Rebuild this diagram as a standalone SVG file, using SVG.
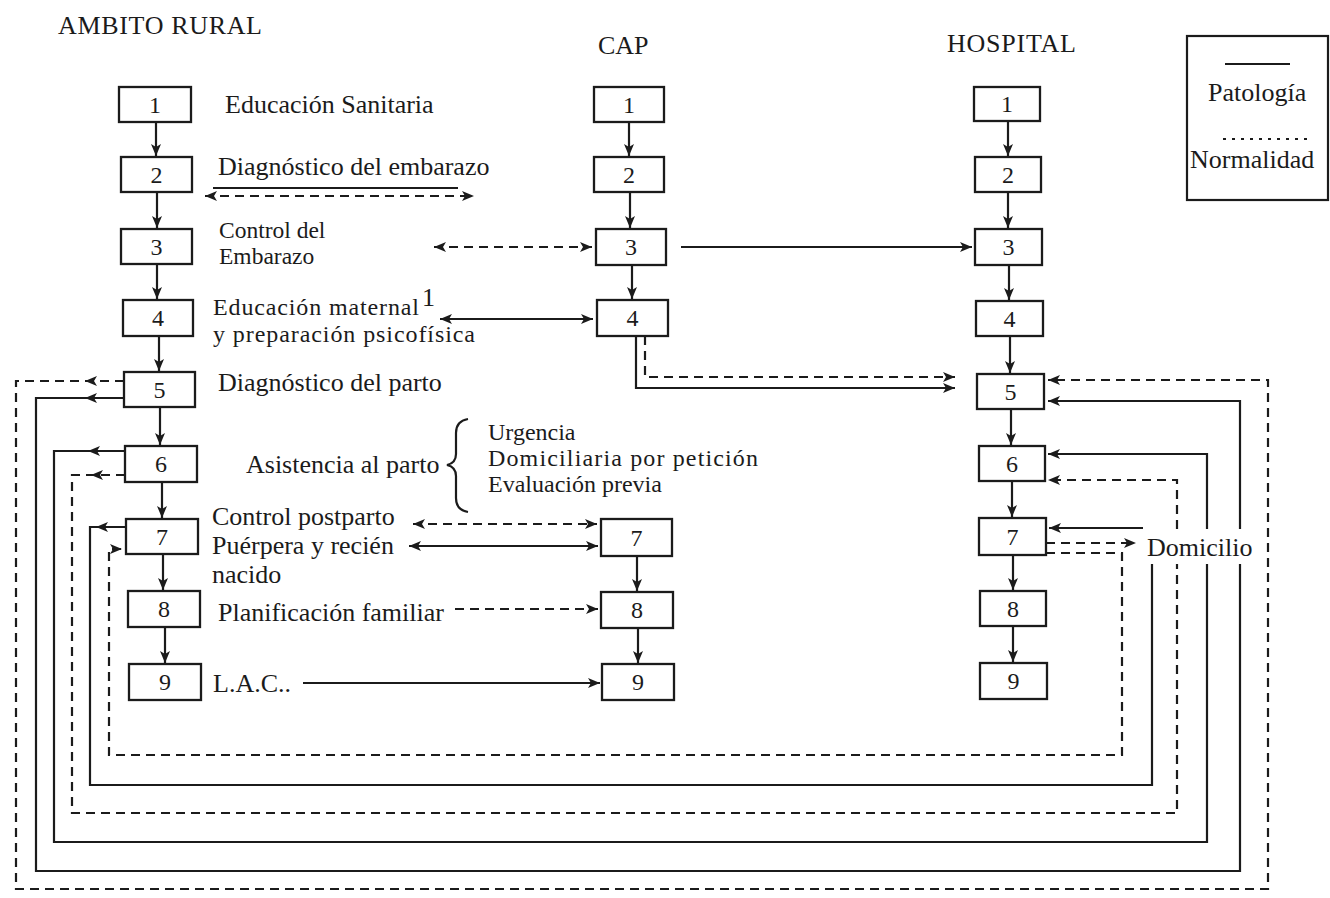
<svg xmlns="http://www.w3.org/2000/svg" xmlns:xlink="http://www.w3.org/1999/xlink" width="1330" height="898" viewBox="0 0 1330 898">
<style>
.box{fill:#fff;stroke:#1b1b1b;stroke-width:2.3}
.ln{fill:none;stroke:#1b1b1b;stroke-width:2.2}
.ds{stroke-dasharray:9 6}
text{font-family:"Liberation Serif","Times New Roman",serif;font-size:26px;fill:#1b1b1b}
.num{text-anchor:middle;font-size:24px}
.s25{font-size:23.5px}
.s24{font-size:24px}
.s23{font-size:24px}
</style>
<defs>
<marker id="a" viewBox="0 0 12 10" refX="12" refY="5" markerWidth="12" markerHeight="10" markerUnits="userSpaceOnUse" orient="auto-start-reverse"><path d="M0,0 L12,5 L0,10 L3,5 Z" fill="#1b1b1b"/></marker>
<path id="ah" d="M0,0 L-12,-5 L-9,0 L-12,5 Z" fill="#1b1b1b"/>
</defs>
<rect width="1330" height="898" fill="#fff"/>

<g id="headers">
<text x="58" y="34" textLength="204" lengthAdjust="spacing">AMBITO RURAL</text>
<text x="598" y="54">CAP</text>
<text x="947" y="52" textLength="129" lengthAdjust="spacing">HOSPITAL</text>
</g>

<g id="connectors">
<g class="ln" marker-end="url(#a)">
<path d="M156 122V156"/><path d="M157 192V228"/><path d="M157 264V299"/><path d="M159 336V371"/><path d="M160 407V445"/><path d="M162 482V518"/><path d="M163 554V590"/><path d="M165 627V663"/>
<path d="M629 122V156"/><path d="M630 192V228"/><path d="M632 265V299"/><path d="M637 556V591"/><path d="M638 628V663"/>
<path d="M1008 121V156"/><path d="M1008 192V228"/><path d="M1009 265V300"/><path d="M1010 336V373"/><path d="M1011 409V445"/><path d="M1012 481V517"/><path d="M1013 555V590"/><path d="M1013 626V662"/>
</g>
<path class="ln" d="M213 188H458"/>
<path class="ln ds" d="M205 196H474" marker-start="url(#a)" marker-end="url(#a)"/>
<path class="ln ds" d="M434 247H592" marker-start="url(#a)" marker-end="url(#a)"/>
<path class="ln" d="M681 247H972" marker-end="url(#a)"/>
<path class="ln" d="M440 319H593" marker-start="url(#a)" marker-end="url(#a)"/>
<path class="ln" d="M636 336V388H955" marker-end="url(#a)"/>
<path class="ln ds" d="M645 336V377H955" marker-end="url(#a)"/>
<path class="ln ds" d="M413 524H597" marker-start="url(#a)" marker-end="url(#a)"/>
<path class="ln" d="M409 546H598" marker-start="url(#a)" marker-end="url(#a)"/>
<path class="ln ds" d="M455 609H598" marker-end="url(#a)"/>
<path class="ln" d="M303 683H600" marker-end="url(#a)"/>
<path class="ln ds" d="M124 381H16V889H1268V380H1048" marker-end="url(#a)"/>
<path class="ln" d="M124 398H36V871H1240V564M1240 529V401H1048" marker-end="url(#a)"/>
<path class="ln" d="M125 451H54V842H1207V564M1207 529V454H1048" marker-end="url(#a)"/>
<path class="ln ds" d="M125 475H72V813H1177V564M1177 529V480H1048" marker-end="url(#a)"/>
<path class="ln" d="M126 527H90V785H1152V564"/>
<path class="ln ds" d="M1046 553H1122V755H109V549H122" marker-end="url(#a)"/>
<path class="ln" d="M1143 528H1049" marker-end="url(#a)"/>
<path class="ln ds" d="M1046 543H1136" marker-end="url(#a)"/>
<use xlink:href="#ah" transform="translate(85 381) rotate(180)"/>
<use xlink:href="#ah" transform="translate(85 398) rotate(180)"/>
<use xlink:href="#ah" transform="translate(88 451) rotate(180)"/>
<use xlink:href="#ah" transform="translate(91 475) rotate(180)"/>
<use xlink:href="#ah" transform="translate(96 527) rotate(180)"/>
<path class="ln" d="M468 419Q456 421 456 433V454Q456 463 447 465Q456 467 456 476V498Q456 510 468 512"/>
</g>

<g id="rural">
<g id="L1"><rect class="box" x="119" y="87" width="72" height="35"/><text class="num" x="155" y="113">1</text></g>
<g id="L2"><rect class="box" x="121" y="157" width="71" height="35"/><text class="num" x="156.5" y="183">2</text></g>
<g id="L3"><rect class="box" x="121" y="229" width="71" height="35"/><text class="num" x="156.5" y="255">3</text></g>
<g id="L4"><rect class="box" x="123" y="300" width="70" height="36"/><text class="num" x="158" y="326">4</text></g>
<g id="L5"><rect class="box" x="124" y="372" width="71" height="35"/><text class="num" x="159.5" y="398">5</text></g>
<g id="L6"><rect class="box" x="125" y="446" width="72" height="36"/><text class="num" x="161" y="472">6</text></g>
<g id="L7"><rect class="box" x="126" y="519" width="72" height="35"/><text class="num" x="162" y="545">7</text></g>
<g id="L8"><rect class="box" x="128" y="591" width="72" height="36"/><text class="num" x="164" y="617">8</text></g>
<g id="L9"><rect class="box" x="129" y="664" width="72" height="36"/><text class="num" x="165" y="690">9</text></g>
</g>

<g id="cap">
<g id="C1"><rect class="box" x="594" y="87" width="70" height="35"/><text class="num" x="629" y="113">1</text></g>
<g id="C2"><rect class="box" x="594" y="157" width="70" height="35"/><text class="num" x="629" y="183">2</text></g>
<g id="C3"><rect class="box" x="596" y="229" width="70" height="36"/><text class="num" x="631" y="255">3</text></g>
<g id="C4"><rect class="box" x="597" y="300" width="71" height="36"/><text class="num" x="632.5" y="326">4</text></g>
<g id="C7"><rect class="box" x="601" y="519" width="71" height="37"/><text class="num" x="636.5" y="546">7</text></g>
<g id="C8"><rect class="box" x="601" y="592" width="72" height="36"/><text class="num" x="637" y="618">8</text></g>
<g id="C9"><rect class="box" x="602" y="664" width="72" height="36"/><text class="num" x="638" y="690">9</text></g>
</g>

<g id="hospital">
<g id="H1"><rect class="box" x="974" y="87" width="66" height="34"/><text class="num" x="1007" y="112">1</text></g>
<g id="H2"><rect class="box" x="975" y="157" width="66" height="35"/><text class="num" x="1008" y="183">2</text></g>
<g id="H3"><rect class="box" x="975" y="229" width="67" height="36"/><text class="num" x="1008.5" y="255">3</text></g>
<g id="H4"><rect class="box" x="976" y="301" width="67" height="35"/><text class="num" x="1009.5" y="327">4</text></g>
<g id="H5"><rect class="box" x="977" y="374" width="67" height="35"/><text class="num" x="1010.5" y="400">5</text></g>
<g id="H6"><rect class="box" x="979" y="446" width="66" height="35"/><text class="num" x="1012" y="472">6</text></g>
<g id="H7"><rect class="box" x="979" y="518" width="67" height="37"/><text class="num" x="1012.5" y="545">7</text></g>
<g id="H8"><rect class="box" x="980" y="591" width="66" height="35"/><text class="num" x="1013" y="617">8</text></g>
<g id="H9"><rect class="box" x="980" y="663" width="67" height="36"/><text class="num" x="1013.5" y="689">9</text></g>
</g>

<g id="labels">
<text x="225" y="113">Educación Sanitaria</text>
<text x="218" y="175">Diagnóstico del embarazo</text>
<text class="s25" x="219" y="238">Control del</text>
<text class="s25" x="219" y="264">Embarazo</text>
<text class="s24" x="213" y="315" textLength="206" lengthAdjust="spacing">Educación maternal</text>
<text x="422" y="306" font-size="16">1</text>
<text class="s24" x="213" y="342" textLength="262" lengthAdjust="spacing">y preparación psicofísica</text>
<text x="218" y="391">Diagnóstico del parto</text>
<text x="246" y="473">Asistencia al parto</text>
<text class="s23" x="488" y="440">Urgencia</text>
<text class="s23" x="488" y="466" textLength="270" lengthAdjust="spacing">Domiciliaria por petición</text>
<text class="s23" x="488" y="492">Evaluación previa</text>
<text x="212" y="525">Control postparto</text>
<text x="212" y="554">Puérpera y recién</text>
<text x="212" y="583">nacido</text>
<text x="218" y="621">Planificación familiar</text>
<text x="213" y="692">L.A.C..</text>
<text x="1147" y="556">Domicilio</text>
</g>

<g id="legend">
<rect x="1187" y="36" width="141" height="164" fill="none" stroke="#1b1b1b" stroke-width="2.2"/>
<path class="ln" d="M1225 64H1290"/>
<path class="ln" d="M1223 139H1308" stroke-dasharray="3 6"/>
<text x="1208" y="101">Patología</text>
<text x="1190" y="168">Normalidad</text>
</g>
</svg>
